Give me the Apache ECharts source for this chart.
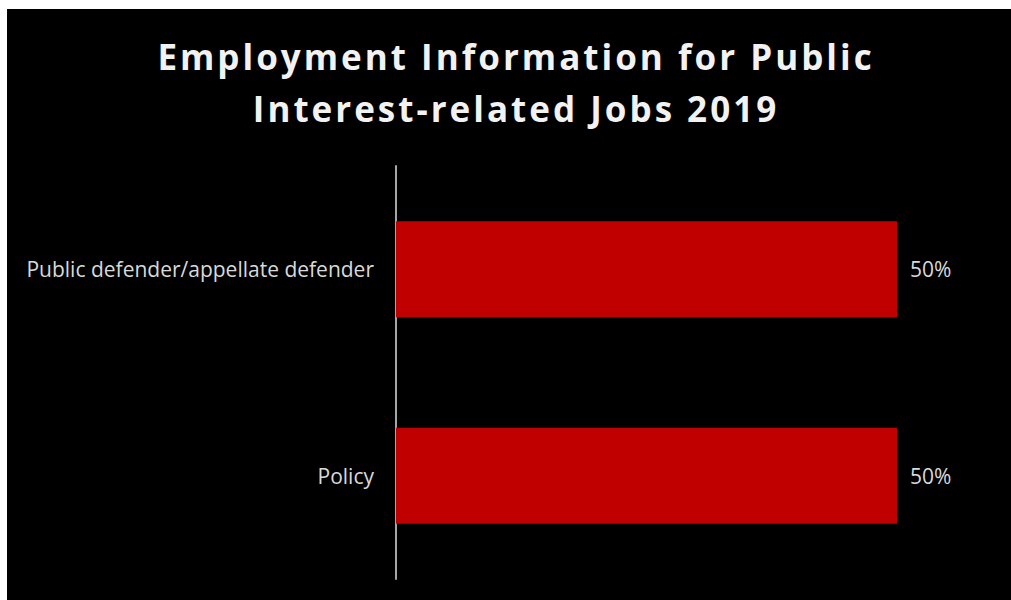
<!DOCTYPE html>
<html><head><meta charset="utf-8">
<script src="https://cdn.jsdelivr.net/npm/echarts@6/dist/echarts.min.js"></script>
<style>
html,body{margin:0;padding:0;background:#fff;width:1011px;height:600px;overflow:hidden}
#chart{position:absolute;left:7px;top:9px;width:1004px;height:591px;background:#000}
#chart text[style*="bold"]{letter-spacing:3px}
</style></head>
<body><div id="chart"></div>
<script>
const titleText = 'Employment Information for Public\nInterest-related Jobs 2019';
const categories = ['Public defender/appellate defender', 'Policy'];
const values = [0.5, 0.5];

const chart = echarts.init(document.getElementById('chart'), null, {renderer:'svg'});
chart.setOption({
  backgroundColor: '#000',
  animation: false,
  title: {
    text: titleText,
    left: 504, top: 16, textAlign: 'center',
    textStyle: {color:'#f2f2f2', fontFamily:'Open Sans', fontWeight:'bold', fontSize:35, lineHeight:52}
  },
  grid: {left:389, top:157, width:501, height:413, containLabel:false},
  xAxis: {type:'value', min:0, max:0.5, show:false},
  yAxis: {
    type:'category', data:categories, inverse:true,
    axisLine:{show:true, lineStyle:{color:'#a6a6a6', width:2}},
    axisTick:{show:false},
    axisLabel:{color:'#d9d9d9', fontFamily:'Open Sans', fontSize:21, margin:22},
    splitLine:{show:false}
  },
  series: [{
    type:'bar', data:values, barWidth:96,
    itemStyle:{color:'#c00000'},
    label:{show:true, position:'right', distance:13, color:'#d9d9d9', fontFamily:'Open Sans', fontSize:21,
      formatter: p => Math.round(p.value*100) + '%'}
  }]
});
</script></body></html>
